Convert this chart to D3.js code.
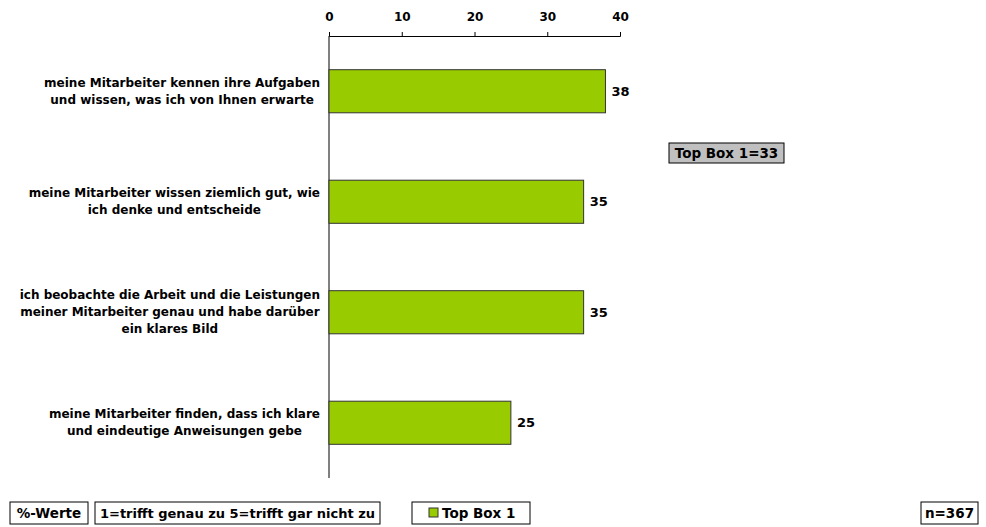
<!DOCTYPE html>
<html><head><meta charset="utf-8">
<script src="https://cdn.jsdelivr.net/npm/d3@7/dist/d3.min.js"></script>
<style>
html,body{margin:0;padding:0;background:#fff;}
svg text{font-family:"DejaVu Sans",Verdana,sans-serif;font-weight:bold;fill:#000;}
</style></head><body>
<svg id="chart" width="986" height="527"></svg>
<script>
const categories = [
  ["meine Mitarbeiter kennen ihre Aufgaben","und wissen, was ich von Ihnen erwarte"],
  ["meine Mitarbeiter wissen ziemlich gut, wie","ich denke und entscheide"],
  ["ich beobachte die Arbeit und die Leistungen","meiner Mitarbeiter genau und habe darüber","ein klares Bild"],
  ["meine Mitarbeiter finden, dass ich klare","und eindeutige Anweisungen gebe"]
];
const values = [38, 35, 35, 25];
const xTicks = [0, 10, 20, 30, 40];
const seriesName = "Top Box 1";
const topBoxNote = "Top Box 1=33";
const footerLabels = ["%-Werte", "1=trifft genau zu 5=trifft gar nicht zu"];
const sampleNote = "n=367";

const svg = d3.select("#chart");
const pLeft = 329, pRight = 620, pTop = 36, pBottom = 478;
const x = d3.scaleLinear().domain([0, 40]).range([pLeft, pRight]);
const y = d3.scaleBand().domain(d3.range(categories.length)).range([pTop, pBottom]).paddingInner(0.61).paddingOuter(0.305);

const ax = svg.append("g").attr("transform", `translate(0,${pTop})`)
  .call(d3.axisTop(x).tickValues(xTicks).tickSize(4).tickSizeOuter(4).tickPadding(11).tickFormat(d3.format("d")));
ax.select(".domain").attr("stroke", "#000");
ax.selectAll(".tick line").attr("stroke", "#000");
ax.selectAll(".tick text").attr("font-size", 12).attr("font-family", "DejaVu Sans").attr("font-weight", "bold");
svg.append("line").attr("x1", pLeft).attr("x2", pLeft).attr("y1", pTop).attr("y2", pBottom).attr("stroke", "#000");

svg.selectAll("rect.bar").data(values).join("rect").attr("class", "bar")
  .attr("x", x(0)).attr("y", (d, i) => y(i)).attr("width", d => x(d) - x(0)).attr("height", y.bandwidth())
  .attr("fill", "#99cc00").attr("stroke", "#333").attr("stroke-width", 1);

svg.selectAll("text.val").data(values).join("text").attr("class", "val")
  .attr("x", d => x(d) + 6).attr("y", (d, i) => y(i) + y.bandwidth() / 2).attr("dy", "0.35em")
  .attr("font-size", 13).text(d => d);

const lh = 17;
categories.forEach((lines, i) => {
  const cy = y(i) + y.bandwidth() / 2;
  const t = svg.append("text").attr("font-size", 12).attr("text-anchor", "middle");
  lines.forEach((l, j) => {
    t.append("tspan").attr("x", 0).attr("y", cy + (j - (lines.length - 1) / 2) * lh).attr("dy", "0.35em").text(l);
  });
  let maxW = 0;
  t.selectAll("tspan").each(function(){ maxW = Math.max(maxW, this.getComputedTextLength()); });
  t.selectAll("tspan").attr("x", 320 - maxW / 2);
});

function boxLabel(cx, cy, txt, fill, opts = {}) {
  const g = svg.append("g");
  const t = g.append("text").attr("font-size", opts.fs || 11.5).attr("text-anchor", "middle")
    .attr("x", cx).attr("y", cy).attr("dy", "0.35em").text(txt);
  const w = opts.w || t.node().getComputedTextLength() + 8;
  const h = opts.h || 20;
  g.insert("rect", "text").attr("x", cx - w / 2).attr("y", cy - h / 2).attr("width", w).attr("height", h)
    .attr("fill", fill).attr("stroke", "#000").attr("stroke-width", 1);
  return g;
}
boxLabel(726.5, 153, topBoxNote, "#c0c0c0", {w: 115, h: 20, fs: 13.5});
boxLabel(49, 513, footerLabels[0], "#fff", {w: 78, h: 22, fs: 13.5});
boxLabel(237.5, 513, footerLabels[1], "#fff", {w: 285, h: 22, fs: 13});
boxLabel(949.5, 513, sampleNote, "#fff", {w: 57, h: 22, fs: 13.5});

const lg = svg.append("g");
lg.append("rect").attr("x", 412).attr("y", 502).attr("width", 118).attr("height", 22).attr("fill", "#fff").attr("stroke", "#000");
lg.append("rect").attr("x", 429).attr("y", 508).attr("width", 9).attr("height", 9).attr("fill", "#99cc00").attr("stroke", "#333");
lg.append("text").attr("x", 442).attr("y", 513).attr("dy", "0.35em").attr("font-size", 13.5).text(seriesName);
</script>
</body></html>
